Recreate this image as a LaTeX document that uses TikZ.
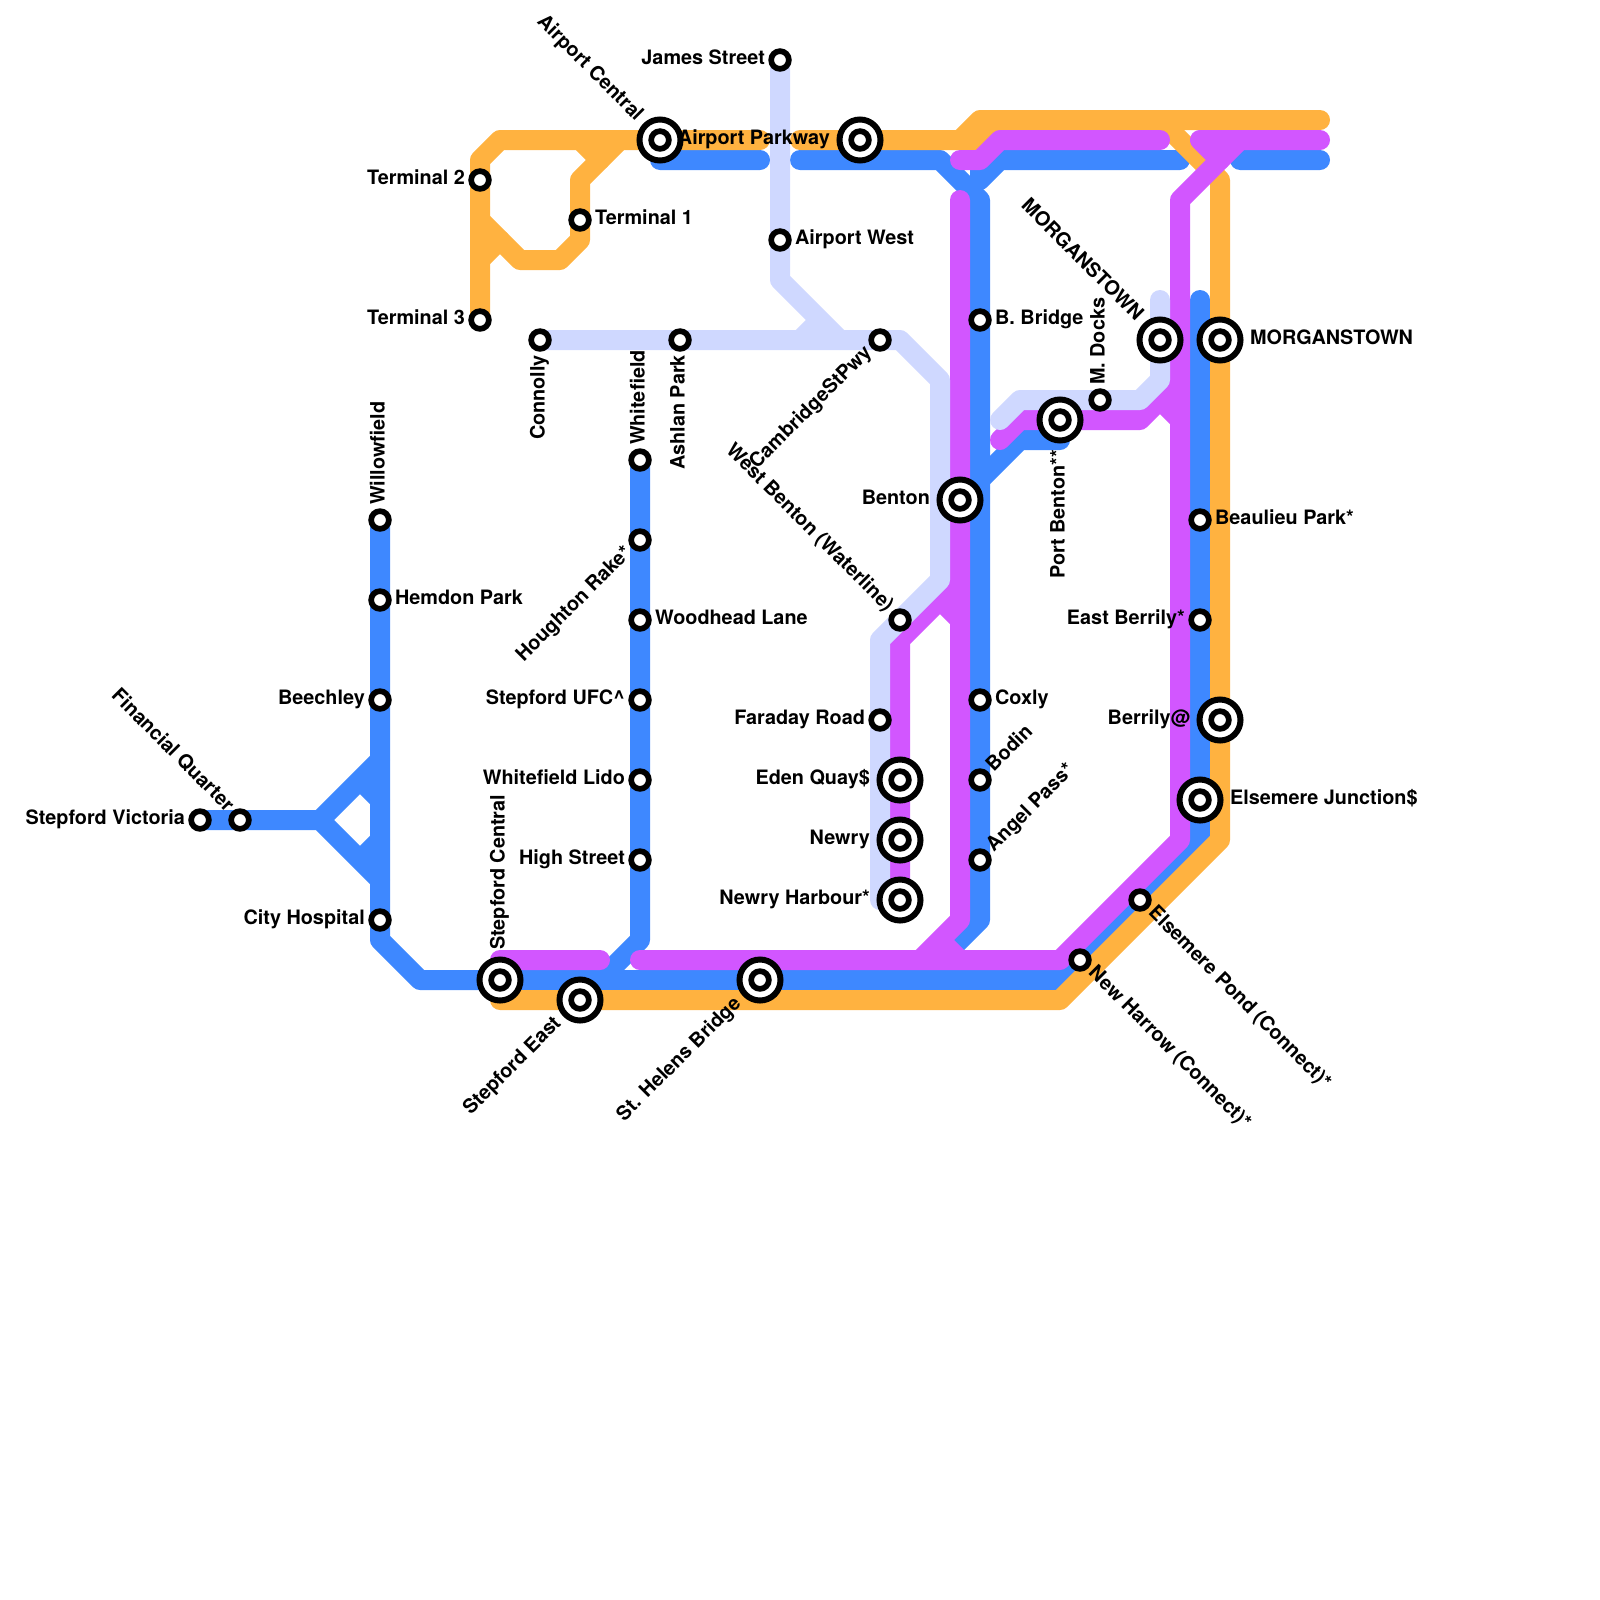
\documentclass[tikz,border=0pt]{standalone}
\usepackage{fontspec}
\setmainfont{TeX Gyre Heros}
\usetikzlibrary{positioning,backgrounds}
\definecolor{lineblue}{RGB}{62,136,255}
\definecolor{lineorange}{RGB}{255,178,64}
\definecolor{linepurple}{RGB}{210,86,255}
\definecolor{linelight}{RGB}{207,216,255}
\begin{document}
\begin{tikzpicture}[x=1cm, y=-1cm, node distance=.165cm,
    metro/.style={line width=1cm, line cap=round, line join=round},
    stn/.style={draw, circle, fill=white, line width=.285cm, minimum size=.885cm, inner sep=0pt},
    ring/.style={stn, line width=.3cm, minimum size=2.05cm},
    lbl/.style={font=\bfseries\fontsize{28.2}{28.2}\selectfont, inner sep=0pt, text height=.65cm, text depth=.2cm}]
  \newcommand{\hub}[2]{\node[ring] (#1) at (#2) {}; \node[stn] (#1i) at (#1.center) {};}
  \useasboundingbox (0,0) rectangle (80,80);
  % stations
  \node[stn] (t2) at (24,9) {};
  \node[stn] (t3) at (24,16) {};
  \node[stn] (t1) at (29,11) {};
  \node[stn] (js) at (39,3) {};
  \node[stn] (aw) at (39,12) {};
  \node[stn] (con) at (27,17) {};
  \node[stn] (ash) at (34,17) {};
  \node[stn] (csp) at (44,17) {};
  \node[stn] (wf) at (32,23) {};
  \node[stn] (hr) at (32,27) {};
  \node[stn] (wl) at (32,31) {};
  \node[stn] (ufc) at (32,35) {};
  \node[stn] (lido) at (32,39) {};
  \node[stn] (hs) at (32,43) {};
  \node[stn] (wil) at (19,26) {};
  \node[stn] (hem) at (19,30) {};
  \node[stn] (bee) at (19,35) {};
  \node[stn] (ch) at (19,46) {};
  \node[stn] (fq) at (12,41) {};
  \node[stn] (sv) at (10,41) {};
  \node[stn] (bb) at (49,16) {};
  \node[stn] (cox) at (49,35) {};
  \node[stn] (bod) at (49,39) {};
  \node[stn] (ang) at (49,43) {};
  \node[stn] (wb) at (45,31) {};
  \node[stn] (far) at (44,36) {};
  \node[stn] (md) at (55,20) {};
  \node[stn] (bp) at (60,26) {};
  \node[stn] (eb) at (60,31) {};
  \node[stn] (ep) at (57,45) {};
  \node[stn] (nhw) at (54,48) {};
  \hub{ac}{33,7}
  \hub{ap}{43,7}
  \hub{sc}{25,49}
  \hub{se}{29,50}
  \hub{sh}{38,49}
  \hub{ben}{48,25}
  \hub{eq}{45,39}
  \hub{nw}{45,42}
  \hub{nh}{45,45}
  \hub{pb}{53,21}
  \hub{mg}{58,17}
  \hub{mge}{61,17}
  \hub{ber}{61,36}
  \hub{ej}{60,40}
  % lines
  \begin{scope}[on background layer]
    \draw[metro, lineblue] (sv.center) -- (16,41) -- (19,38) (16,41) -- (19,44) (18,39) -- (19,40) (18,43) -- (19,42);
    \draw[metro, lineblue] (wil.center) -- (19,47) -- (21,49) -- (53,49) -- (60,42) -- (60,15);
    \draw[metro, lineblue] (wf.center) -- (32,47) -- (30,49);
    \draw[metro, lineblue] (33,8) -- (38,8) (40,8) -- (47,8) -- (49,10) -- (49,46) -- (47,48);
    \draw[metro, lineblue] (59,8) -- (50,8) -- (49,9) -- (49,8) (62,8) -- (66,8);
    \draw[metro, lineblue] (49,24) -- (51,22) -- (53,22);
    \draw[metro, lineorange] (t3.center) -- (24,8) -- (25,7) -- (38,7) (40,7) -- (48,7) -- (49,6) -- (66,6);
    \draw[metro, lineorange] (48,7) -- (49,7) -- (50,6);
    \draw[metro, lineorange] (58,6) -- (61,9) -- (61,42) -- (53,50) -- (25,50);
    \draw[metro, lineorange] (24,11) -- (26,13) -- (28,13) -- (29,12) -- (29,9) -- (31,7);
    \draw[metro, lineorange] (24,13) -- (25,12) (29,7) -- (30,8);
    \draw[metro, linepurple] (25,48) -- (30,48) (32,48) -- (53,48) -- (59,42) -- (59,10) -- (62,7);
    \draw[metro, linepurple] (66,7) -- (60,7) -- (61,8);
    \draw[metro, linepurple] (48,10) -- (48,46) -- (46,48) (47,47) -- (48,48);
    \draw[metro, linepurple] (nh.center) -- (45,32) -- (48,29) (47,30) -- (48,31);
    \draw[metro, linepurple] (48,8) -- (49,8) -- (50,7) -- (58,7);
    \draw[metro, linepurple] (50,22) -- (51,21) -- (57,21) -- (59,19) (58,20) -- (59,21);
    \draw[metro, linelight] (js.center) -- (39,14) -- (42,17) (40,17) -- (41,16);
    \draw[metro, linelight] (con.center) -- (45,17) -- (47,19) -- (47,29) -- (44,32) -- (44,45);
    \draw[metro, linelight] (50,21) -- (51,20) -- (57,20) -- (58,19) -- (58,15);
  \end{scope}
  % labels, level
  \node[lbl, left=of t2] {Terminal 2};
  \node[lbl, left=of t3] {Terminal 3};
  \node[lbl, right=of t1] {Terminal 1};
  \node[lbl, left=of js] {James Street};
  \node[lbl, right=of aw] {Airport West};
  \node[lbl, left=.325cm of ap] {Airport Parkway};
  \node[lbl, left=of bee] {Beechley};
  \node[lbl, right=of hem] {Hemdon Park};
  \node[lbl, left=of ch] {City Hospital};
  \node[lbl, left=of sv] {Stepford Victoria};
  \node[lbl, right=of wl] {Woodhead Lane};
  \node[lbl, left=of ufc] {Stepford UFC\textasciicircum};
  \node[lbl, left=of lido] {Whitefield Lido};
  \node[lbl, left=of hs] {High Street};
  \node[lbl, left=of far] {Faraday Road};
  \node[lbl, left=.325cm of eq] {Eden Quay\$};
  \node[lbl, left=.325cm of nw] {Newry};
  \node[lbl, left=.325cm of nh] {Newry Harbour*};
  \node[lbl, left=.325cm of ben] {Benton};
  \node[lbl, right=of bb] {B. Bridge};
  \node[lbl, right=of cox] {Coxly};
  \node[lbl, right=of bp] {Beaulieu Park*};
  \node[lbl, left=of eb] {East Berrily*};
  \node[lbl, left=.325cm of ber] {Berrily@};
  \node[lbl, right=.325cm of mge] {MORGANSTOWN};
  \node[lbl, right=.325cm of ej] {Elsemere Junction\$};
  % labels, upright
  \node[lbl, above=of wil, anchor=west, rotate=90] {Willowfield};
  \node[lbl, above=of wf, anchor=west, rotate=90] {Whitefield};
  \node[lbl, above=.325cm of sc, anchor=west, rotate=90] {Stepford Central};
  \node[lbl, above=of md, anchor=west, rotate=90] {M. Docks};
  \node[lbl, below=of con, anchor=east, rotate=90] {Connolly};
  \node[lbl, below=of ash, anchor=east, rotate=90] {Ashlan Park};
  \node[lbl, below=.325cm of pb, anchor=east, rotate=90] {Port Benton**};
  % labels, diagonal
  \node[lbl, above left=.325cm of ac, anchor=east, rotate=-45] {Airport Central};
  \node[lbl, above left=of fq, anchor=east, rotate=-45] {Financial Quarter};
  \node[lbl, above left=of wb, anchor=east, rotate=-45] {West Benton (Waterline)};
  \node[lbl, above left=.325cm of mg, anchor=east, rotate=-45] {MORGANSTOWN};
  \node[lbl, below right=of ep, anchor=west, rotate=-45] {Elsemere Pond (Connect)*};
  \node[lbl, below right=of nhw, anchor=west, rotate=-45] {New Harrow (Connect)*};
  \node[lbl, below left=of csp, anchor=east, rotate=45] {CambridgeStPwy};
  \node[lbl, below left=of hr, anchor=east, rotate=45] {Houghton Rake*};
  \node[lbl, below left=.325cm of se, anchor=east, rotate=45] {Stepford East};
  \node[lbl, below left=.325cm of sh, anchor=east, rotate=45] {St. Helens Bridge};
  \node[lbl, above right=of bod, anchor=west, rotate=45] {Bodin};
  \node[lbl, above right=of ang, anchor=west, rotate=45] {Angel Pass*};
\end{tikzpicture}
\end{document}
